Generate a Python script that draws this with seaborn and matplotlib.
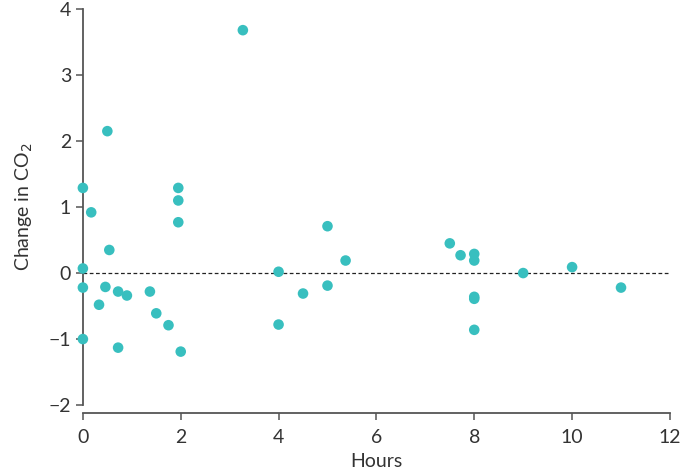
import pandas as pd
import matplotlib
matplotlib.use('Agg')
import matplotlib.pyplot as plt
import seaborn as sns

# Werte
hours = [0, 0.17, 0.5, 0.54, 0, 0, 0.46, 0.33, 0.72, 0.9, 0, 0.72,
         1.37, 1.5, 1.75, 1.95, 1.95, 1.95, 2.0, 3.27,
         5.0, 5.37, 4.0, 4.5, 5.0, 4.0,
         7.5, 7.72, 8.0, 8.0, 9.0, 10.0, 11.0, 8.0, 8.0, 8.0]
change_co2 = [1.29, 0.92, 2.15, 0.35, 0.07, -0.22, -0.21, -0.48, -0.28, -0.34, -1.0, -1.13,
              -0.28, -0.61, -0.79, 1.29, 1.10, 0.77, -1.19, 3.68,
              0.71, 0.19, 0.02, -0.31, -0.19, -0.78,
              0.45, 0.27, 0.29, 0.19, 0.0, 0.09, -0.22, -0.36, -0.39, -0.86]

data = pd.DataFrame({'hours': hours, 'change': change_co2})

sns.set_style('ticks')
plt.rcParams['font.family'] = ['Lato', 'DejaVu Sans']

fig = plt.figure(figsize=(6.85, 4.76), dpi=100)
ax = fig.add_axes([0.121, 0.149, 0.857, 0.832])

sns.scatterplot(x='hours', y='change', data=data, color='#38bfbf', s=58,
                edgecolor='none', ax=ax, zorder=3, clip_on=False)
ax.axhline(0, color='#222222', linestyle=(0, (3, 2)), linewidth=0.9, zorder=2)

ax.set_xlim(0, 12)
ax.set_ylim(-2, 4)
ax.set_xticks(range(0, 13, 2))
ax.set_yticks(range(-2, 5))
ax.set_yticklabels(['\u22122', '\u22121', '0', '1', '2', '3', '4'])
ax.set_xlabel('Hours', fontsize=14, color='#333333', labelpad=5)
ax.set_ylabel('Change in CO$_2$', fontsize=14, color='#333333', labelpad=10)
ax.tick_params(labelsize=14, colors='#333333', length=5, width=1.1, color='#555555')
ax.tick_params(axis='x', pad=6)

sns.despine(ax=ax)
ax.spines['bottom'].set_position(('outward', 6))
for sp in ['left', 'bottom']:
    ax.spines[sp].set_color('#555555')
    ax.spines[sp].set_linewidth(1.3)

plt.savefig('out.png', dpi=100)
